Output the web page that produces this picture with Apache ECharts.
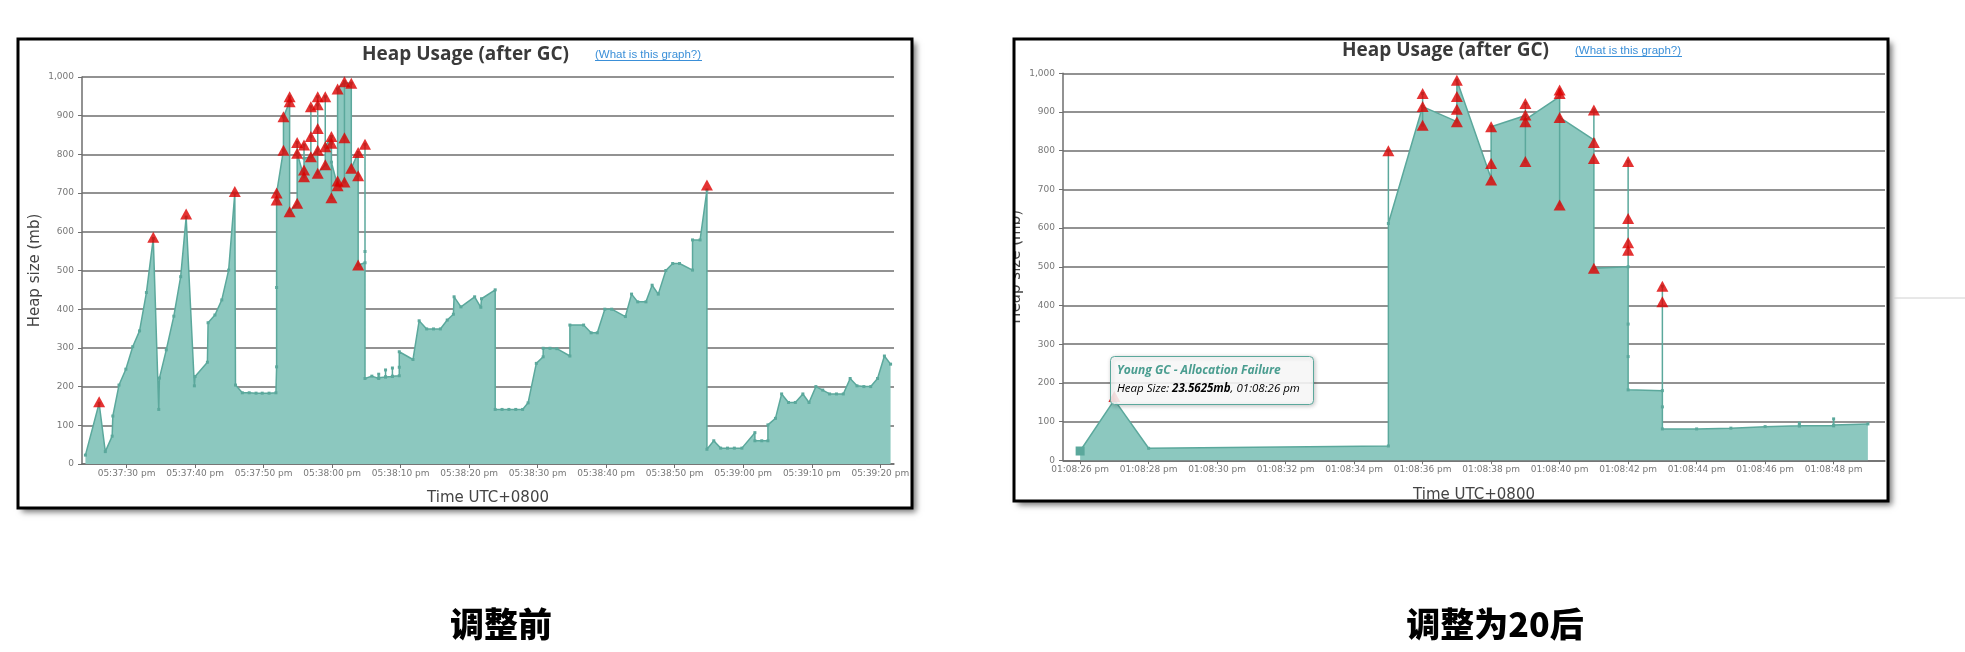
<!DOCTYPE html>
<html><head><meta charset="utf-8">
<script src="https://cdn.jsdelivr.net/npm/echarts@6/dist/echarts.min.js"></script>
<style>html,body{margin:0;padding:0;background:#fff;}#c{width:1965px;height:652px;}</style>
</head><body><div id="c"></div>
<script>
// x values = seconds after 05:37:00 pm (before) / 01:08:00 pm (after)
const beforeTickValues = [30,40,50,60,70,80,90,100,110,120,130,140];
const beforeTickLabels = ['05:37:30 pm','05:37:40 pm','05:37:50 pm','05:38:00 pm','05:38:10 pm','05:38:20 pm','05:38:30 pm','05:38:40 pm','05:38:50 pm','05:39:00 pm','05:39:10 pm','05:39:20 pm'];
const afterTickValues = [26,28,30,32,34,36,38,40,42,44,46,48];
const afterTickLabels = ['01:08:26 pm','01:08:28 pm','01:08:30 pm','01:08:32 pm','01:08:34 pm','01:08:36 pm','01:08:38 pm','01:08:40 pm','01:08:42 pm','01:08:44 pm','01:08:46 pm','01:08:48 pm'];

const beforeHeap = [
[24.0,23],[26.0,157],[26.9,32],[27.9,72],[28.0,124],[28.9,204],[29.9,245],[30.9,303],[31.9,344],[32.9,443],[33.9,583],[34.7,141],[34.8,222],[35.8,295],[36.9,382],[37.9,484],[38.7,638],[39.9,202],[40.0,226],[41.8,263],[41.9,365],[42.9,385],[43.9,424],[44.9,501],[45.8,700],[45.9,204],[46.9,184],[47.9,184],[48.9,183],[49.8,183],[50.8,183],[51.8,184],
[51.9,251],[51.9,456],[51.9,682],[51.9,700],
[52.9,811],[52.9,897],
[53.8,936],[53.8,949],[53.8,652],
[54.9,674],[54.9,831],[54.9,803],
[55.9,742],[55.9,760],[55.9,824],[55.9,790],
[56.9,794],[56.9,923],[56.9,846],[56.9,794],
[57.9,811],[57.9,949],[57.9,928],[57.9,867],[57.9,751],
[59.0,773],[59.0,949],[59.0,820],
[59.9,846],[59.9,829],[59.9,688],[59.9,780],
[60.8,719],[60.8,731],[60.8,969],
[61.8,988],[61.8,843],[61.8,729],[61.8,985],
[62.8,984],[62.8,764],
[63.8,805],[63.8,745],[63.8,514],
[64.8,520],[64.8,549],[64.8,826],[64.8,221],
[65.8,227],[66.8,221],[66.8,232],[66.8,223],[67.8,225],[67.8,243],[67.8,225],[68.8,226],[68.8,248],[68.8,227],[69.8,228],[69.8,250],[69.8,290],
[71.8,270],[72.7,370],[73.8,349],[74.8,349],[75.8,349],[76.8,372],[77.7,387],[77.8,432],[78.8,406],[80.8,432],[81.7,405],[81.8,427],[83.8,450],[83.8,141],
[84.8,141],[85.8,141],[86.8,141],[87.8,141],[88.6,158],[89.8,260],[90.8,277],[90.8,299],[91.8,299],[92.8,298],[94.7,279],[94.7,359],[96.7,359],[97.8,339],[98.7,339],[99.8,400],[100.8,400],[102.8,381],[103.7,439],[104.6,419],[105.8,419],[106.7,462],[107.6,439],[108.7,500],[109.7,518],[110.7,518],[112.6,501],[112.6,579],[113.7,579],[114.7,708],[114.7,38],
[115.7,60],[116.7,41],[117.7,41],[118.7,41],[119.8,41],[121.7,81],[121.7,60],[122.7,60],[123.6,60],[123.6,101],[124.7,118],[125.6,181],[126.6,159],[127.6,159],[128.7,181],[129.6,159],[130.6,200],[131.6,191],[132.6,181],[133.6,181],[134.6,181],[135.6,221],[136.6,202],[137.6,200],[138.6,200],[139.6,221],[140.6,279],[141.5,258]
];
const beforeFullGC = [[26.0,161],[33.9,586],[38.7,646],[45.8,704],[51.9,682],[51.9,700],[52.9,811],[52.9,897],[53.8,936],[53.8,949],[53.8,652],[54.9,831],[54.9,803],[54.9,674],[55.9,824],[55.9,760],[55.9,742],[56.9,923],[56.9,846],[56.9,794],[57.9,949],[57.9,928],[57.9,867],[57.9,811],[57.9,751],[59.0,949],[59.0,820],[59.0,773],[59.9,846],[59.9,829],[59.9,688],[60.8,969],[60.8,731],[60.8,719],[61.8,988],[61.8,843],[61.8,729],[62.8,984],[62.8,764],[63.8,805],[63.8,745],[63.8,514],[64.8,826],[114.7,721]];

const afterHeap = [[26.0,24],[27.0,156],[28.0,31],[35.0,37],[35.0,800],[35.0,612],[36.0,914],[36.0,948],[36.0,866],[36.0,914],[37.0,875],[37.0,982],[38.0,728],[38.0,862],[39.0,891],[39.0,772],[39.0,922],[39.0,880],[40.0,940],[40.0,957],[40.0,660],[40.0,886],[41.0,828],[41.0,905],[41.0,496],[42.0,500],[42.0,772],[42.0,352],[42.0,268],[42.0,182],[43.0,180],[43.0,450],[43.0,138],[43.0,81],[44.0,81],[45.0,83],[46.0,87],[47.0,89],[47.0,96],[47.0,89],[48.0,89],[48.0,107],[48.0,91],[49.0,94]];
const afterFullGC = [[27.0,165],[35.0,800],[36.0,948],[36.0,914],[36.0,866],[37.0,982],[37.0,940],[37.0,907],[37.0,875],[38.0,862],[38.0,767],[38.0,724],[39.0,922],[39.0,892],[39.0,875],[39.0,772],[40.0,957],[40.0,948],[40.0,886],[40.0,660],[41.0,905],[41.0,821],[41.0,780],[41.0,496],[42.0,772],[42.0,625],[42.0,562],[42.0,543],[43.0,450],[43.0,410]];

const chartTitle = 'Heap Usage (after GC)';
const linkText = '(What is this graph?)';
const xName = 'Time UTC+0800';
const yName = 'Heap size (mb)';
const captions = ['调整前', '调整为20后'];

const LINE = '#5ba89c', FILL = '#8cc8bf', RED = '#dd0000', GRID = '#6e6e6e';

function xAxis(gi, min, max, vals, labels) {
  return {
    type: 'value', gridIndex: gi, min: min, max: max,
    axisLine: { show: true, onZero: false, lineStyle: { color: GRID, width: 1.5 } },
    axisTick: { show: true, customValues: vals, length: 4, lineStyle: { color: GRID } },
    axisLabel: { customValues: vals, margin: 5, color: '#777', fontSize: 9, fontFamily: 'DejaVu Sans',
      formatter: function (v) { const i = vals.indexOf(Math.round(v)); return i >= 0 ? labels[i] : ''; } },
    splitLine: { show: false },
    name: xName, nameLocation: 'middle', nameGap: 27,
    nameTextStyle: { fontFamily: 'DejaVu Sans', fontSize: 15, color: '#444' }
  };
}
function yAxis(gi, gap) {
  return {
    type: 'value', gridIndex: gi, min: 0, max: 1000, interval: 100,
    axisLine: { show: true, lineStyle: { color: GRID, width: 1.5 } },
    axisTick: { show: true, length: 4, lineStyle: { color: GRID } },
    axisLabel: { margin: 8, color: '#777', fontSize: 9, fontFamily: 'DejaVu Sans',
      formatter: function (v) { return v.toLocaleString('en-US'); } },
    splitLine: { show: true, lineStyle: { color: GRID, width: 1.5 } },
    name: yName, nameLocation: 'middle', nameGap: gap,
    nameTextStyle: { fontFamily: 'DejaVu Sans', fontSize: 15, color: '#444' }
  };
}
function heapSeries(idx, data) {
  return {
    type: 'line', xAxisIndex: idx, yAxisIndex: idx, data: data,
    symbol: 'rect', symbolSize: 3, showSymbol: true,
    lineStyle: { color: LINE, width: 1.5 }, itemStyle: { color: LINE },
    areaStyle: { color: FILL, opacity: 1 }, z: 2
  };
}
function gcSeries(idx, data) {
  return {
    type: 'scatter', xAxisIndex: idx, yAxisIndex: idx, data: data,
    symbol: 'triangle', symbolSize: [12, 11], itemStyle: { color: RED }, z: 3
  };
}

const chart = echarts.init(document.getElementById('c'), null, { renderer: 'canvas' });
const afterData = afterHeap.map(function (p, i) { return i === 0 ? { value: p, symbolSize: 9 } : p; });

const linkFont = '11.5px "Liberation Sans"';
const titleStyle = { fontFamily: 'Open Sans', fontWeight: 'bold', fontSize: 19, color: '#3a3a3a' };
chart.setOption({
  backgroundColor: '#fff',
  animation: false,
  title: [
    { text: chartTitle, left: 362, top: 45, padding: 0, textStyle: titleStyle },
    { text: chartTitle, left: 1342, top: 41, padding: 0, textStyle: titleStyle }
  ],
  grid: [
    { left: 82, top: 77, width: 812, height: 387 },
    { left: 1063, top: 73.3, width: 822, height: 387 }
  ],
  xAxis: [xAxis(0, 23.5, 142.0, beforeTickValues, beforeTickLabels), xAxis(1, 25.5, 49.5, afterTickValues, afterTickLabels)],
  yAxis: [yAxis(0, 39), yAxis(1, 39)],
  series: [heapSeries(0, beforeHeap), gcSeries(0, beforeFullGC), heapSeries(1, afterData), gcSeries(1, afterFullGC)],
  graphic: [
    { type: 'rect', z: -1, shape: { x: 18, y: 39, width: 894, height: 469 }, style: { fill: '#fff', shadowBlur: 6, shadowOffsetX: 4, shadowOffsetY: 4, shadowColor: 'rgba(0,0,0,0.55)' } },
    { type: 'rect', z: -1, shape: { x: 1014, y: 39, width: 874, height: 462 }, style: { fill: '#fff', shadowBlur: 6, shadowOffsetX: 4, shadowOffsetY: 4, shadowColor: 'rgba(0,0,0,0.55)' } },
    { type: 'line', z: -1, shape: { x1: 1893, y1: 298, x2: 1965, y2: 298 }, style: { stroke: '#d0d0d0', lineWidth: 1 } },
    { type: 'rect', z: 50, shape: { x: 995, y: 150, width: 19, height: 250 }, style: { fill: '#fff' } },
    { type: 'rect', z: 51, shape: { x: 18, y: 39, width: 894, height: 469 }, style: { fill: null, stroke: '#000', lineWidth: 3 } },
    { type: 'rect', z: 51, shape: { x: 1014, y: 39, width: 874, height: 462 }, style: { fill: null, stroke: '#000', lineWidth: 3 } },
    { type: 'text', z: 52, style: { text: linkText, x: 595, y: 55, font: linkFont, fill: '#3a8fd8', verticalAlign: 'middle' } },
    { type: 'line', z: 52, shape: { x1: 595, y1: 60.5, x2: 702, y2: 60.5 }, style: { stroke: '#3a8fd8', lineWidth: 1 } },
    { type: 'text', z: 52, style: { text: linkText, x: 1575, y: 51, font: linkFont, fill: '#3a8fd8', verticalAlign: 'middle' } },
    { type: 'line', z: 52, shape: { x1: 1575, y1: 56.5, x2: 1682, y2: 56.5 }, style: { stroke: '#3a8fd8', lineWidth: 1 } },
    { type: 'rect', z: 60, shape: { x: 1110.5, y: 356.5, width: 203, height: 48, r: 4 }, style: { fill: 'rgba(255,255,255,0.86)', stroke: LINE, lineWidth: 1, shadowBlur: 4, shadowOffsetX: 1, shadowOffsetY: 1, shadowColor: 'rgba(0,0,0,0.25)' } },
    { type: 'text', z: 61, style: { text: 'Young GC - Allocation Failure', x: 1117, y: 371, font: 'italic bold 12px "Open Sans"', fill: '#4a9d90', verticalAlign: 'middle' } },
    { type: 'text', z: 61, style: { text: '{a|Heap Size: }{b|23.5625mb}{a|, 01:08:26 pm}', x: 1117, y: 389, verticalAlign: 'middle',
        rich: { a: { fontFamily: 'Open Sans', fontStyle: 'italic', fontSize: 11.5, color: '#111' }, b: { fontFamily: 'Open Sans', fontStyle: 'italic', fontWeight: 'bold', fontSize: 11.5, color: '#111' } } } },
    { type: 'text', z: 52, style: { text: captions[0], x: 501, y: 624, font: '900 34px "Noto Sans CJK SC"', fill: '#000', align: 'center', verticalAlign: 'middle' } },
    { type: 'text', z: 52, style: { text: captions[1], x: 1495, y: 624, font: '900 34px "Noto Sans CJK SC"', fill: '#000', align: 'center', verticalAlign: 'middle' } }
  ]
});
</script></body></html>
